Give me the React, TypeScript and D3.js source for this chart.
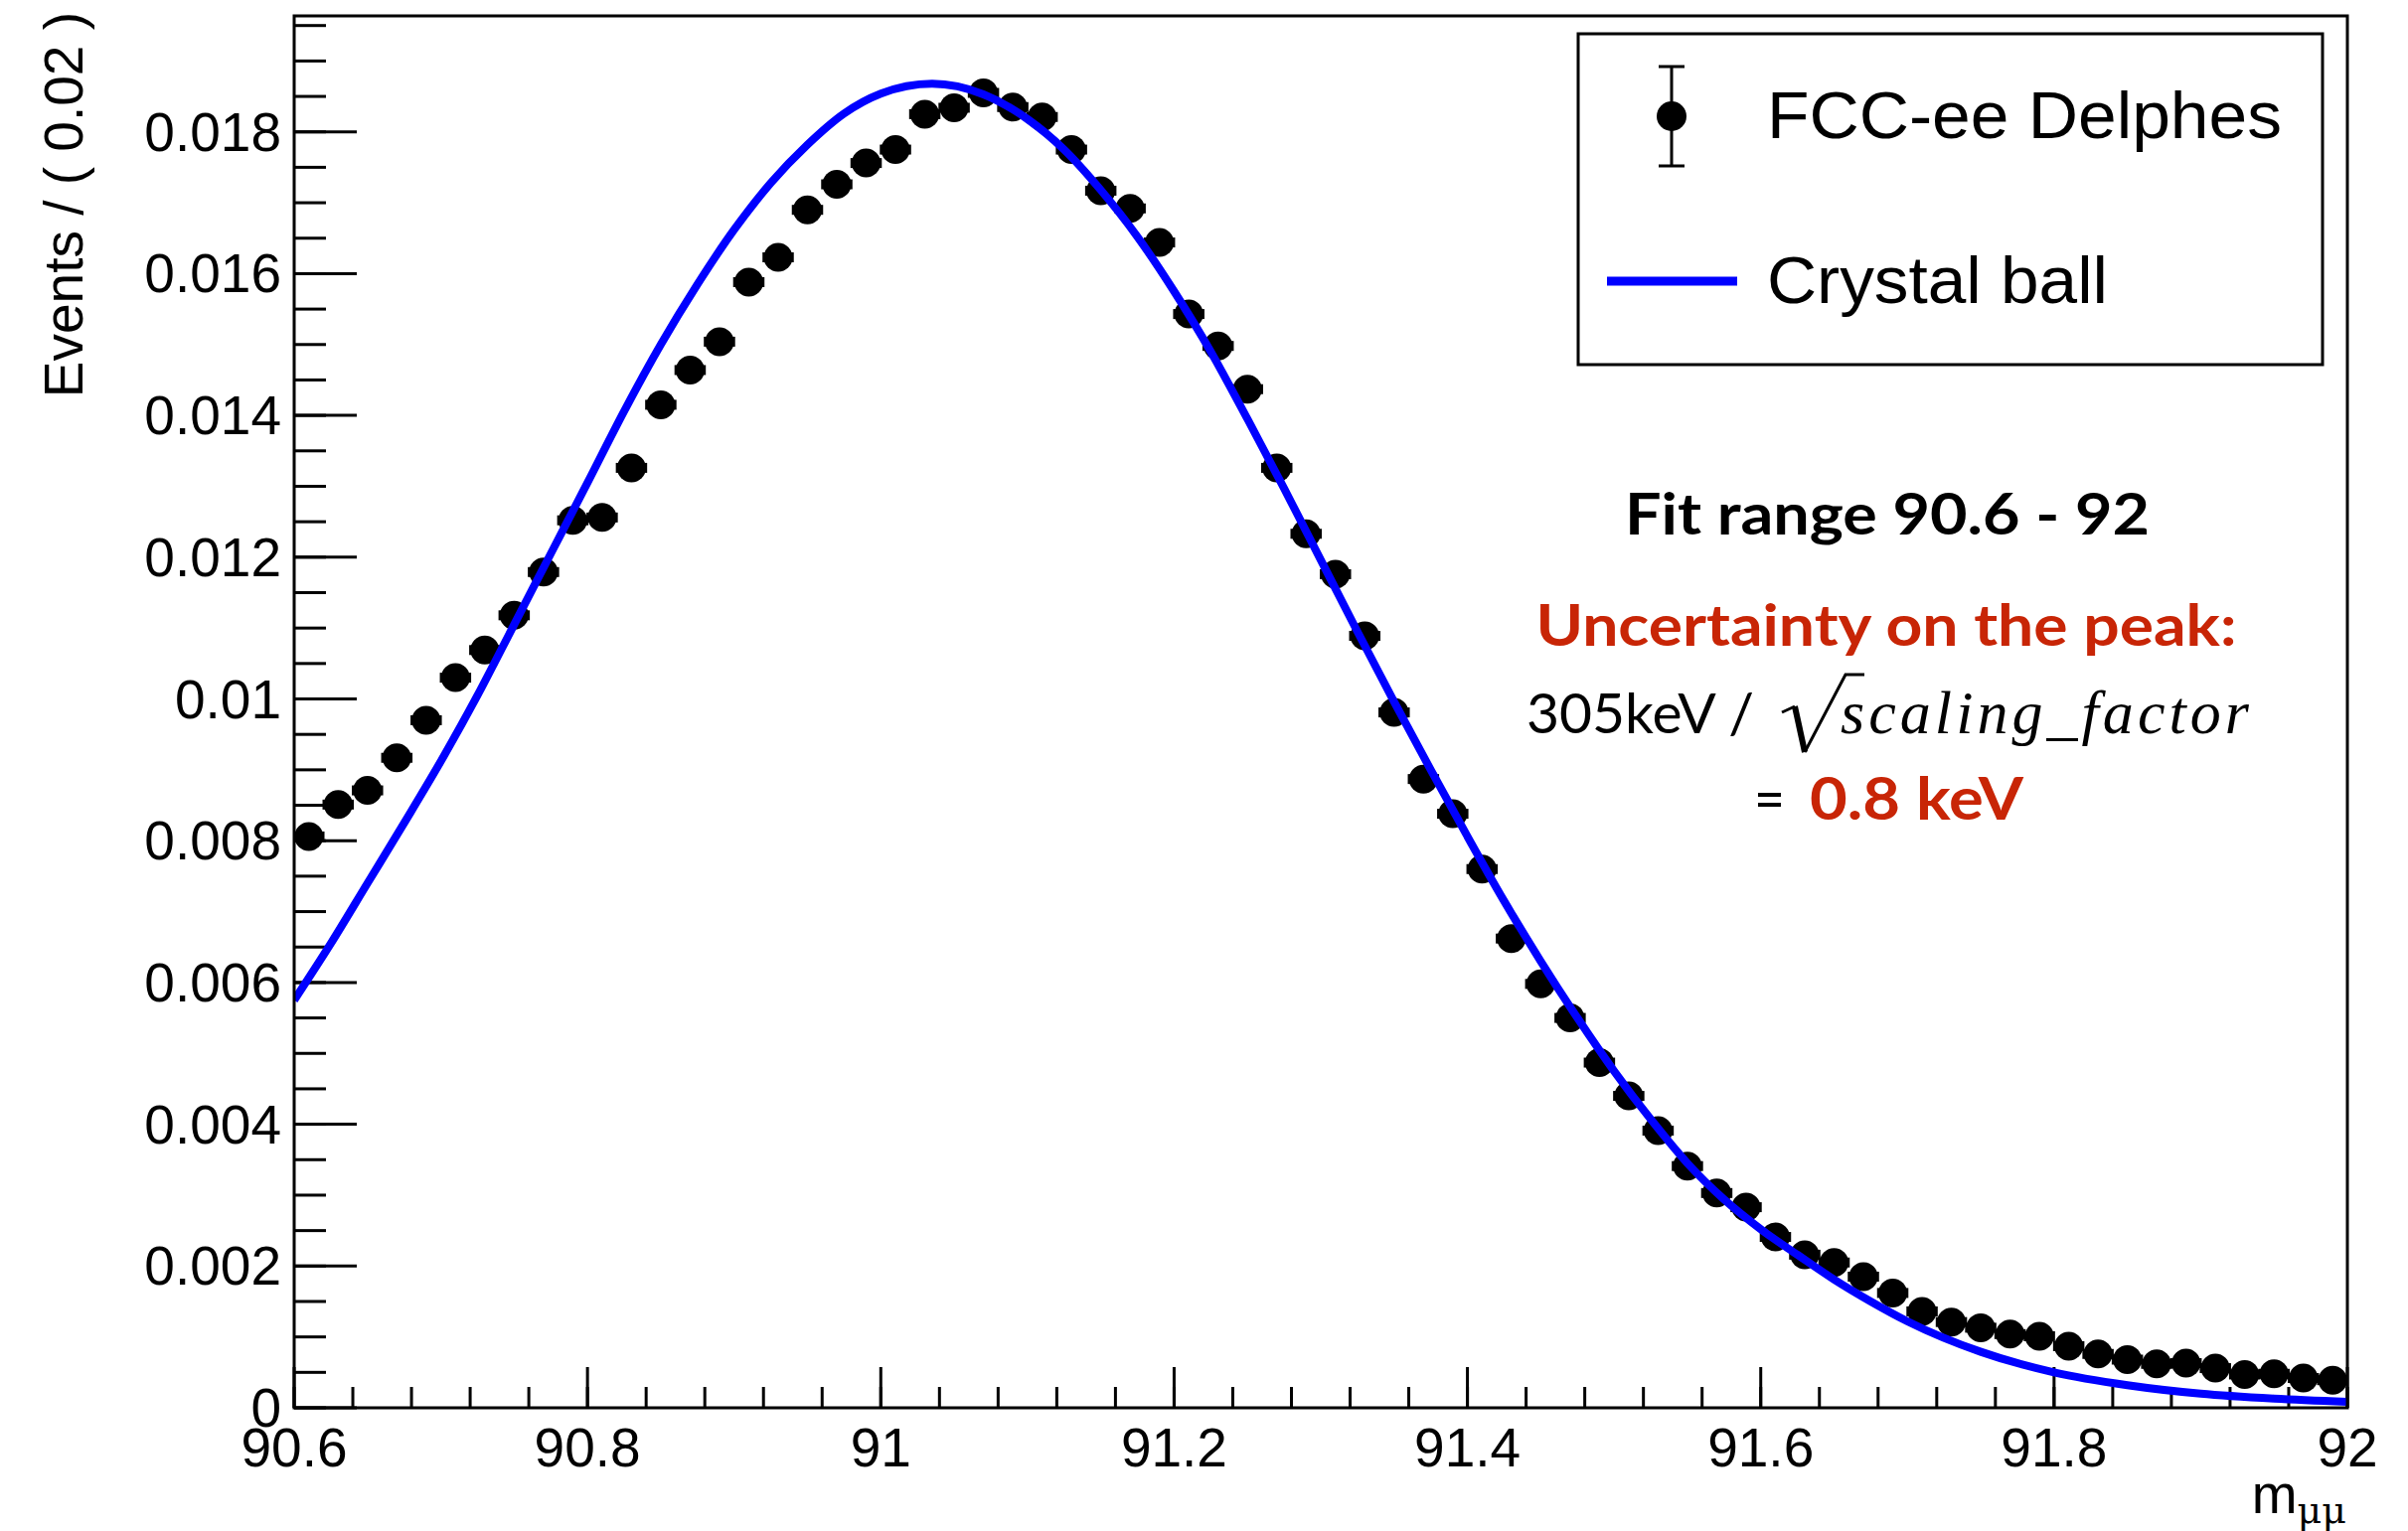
import React from 'react';
import * as d3 from 'd3';

// ---- data ----
const binCenters = [
  90.61, 90.63, 90.65, 90.67, 90.69, 90.71, 90.73, 90.75, 90.77, 90.79,
  90.81, 90.83, 90.85, 90.87, 90.89, 90.91, 90.93, 90.95, 90.97, 90.99,
  91.01, 91.03, 91.05, 91.07, 91.09, 91.11, 91.13, 91.15, 91.17, 91.19,
  91.21, 91.23, 91.25, 91.27, 91.29, 91.31, 91.33, 91.35, 91.37, 91.39,
  91.41, 91.43, 91.45, 91.47, 91.49, 91.51, 91.53, 91.55, 91.57, 91.59,
  91.61, 91.63, 91.65, 91.67, 91.69, 91.71, 91.73, 91.75, 91.77, 91.79,
  91.81, 91.83, 91.85, 91.87, 91.89, 91.91, 91.93, 91.95, 91.97, 91.99,
];
// Events per bin, in units of 1e-3
const delphesValues = [
  8.06, 8.51, 8.71, 9.17, 9.70, 10.30, 10.69, 11.18, 11.79, 12.52,
  12.56, 13.26, 14.15, 14.64, 15.04, 15.88, 16.23, 16.90, 17.26, 17.56,
  17.75, 18.25, 18.34, 18.55, 18.35, 18.21, 17.75, 17.17, 16.92, 16.44,
  15.43, 14.98, 14.37, 13.26, 12.33, 11.76, 10.89, 9.81, 8.87, 8.38,
  7.60, 6.62, 5.98, 5.50, 4.87, 4.40, 3.91, 3.41, 3.03, 2.83,
  2.41, 2.16, 2.05, 1.85, 1.62, 1.36, 1.21, 1.13, 1.04, 1.01,
  0.87, 0.76, 0.68, 0.62, 0.63, 0.56, 0.47, 0.48, 0.42, 0.39,
];
const binWidth = 0.02;

// Crystal ball fit curve (values in 1e-3)
const fitX = [
  90.6, 90.625, 90.65, 90.675, 90.7, 90.725, 90.75, 90.775, 90.8, 90.825,
  90.85, 90.875, 90.9, 90.925, 90.95, 90.975, 91.0, 91.035, 91.07, 91.1,
  91.125, 91.15, 91.175, 91.2, 91.225, 91.25, 91.275, 91.3, 91.325, 91.35,
  91.375, 91.4, 91.425, 91.45, 91.475, 91.5, 91.525, 91.55, 91.575, 91.6,
  91.625, 91.65, 91.675, 91.7, 91.75, 91.8, 91.85, 91.9, 91.95, 92.0,
];
const fitY = [
  5.75, 6.55, 7.40, 8.25, 9.12, 10.05, 11.05, 12.05, 13.05, 14.06,
  15.00, 15.85, 16.62, 17.28, 17.82, 18.26, 18.54, 18.68, 18.53, 18.18,
  17.75, 17.18, 16.52, 15.75, 14.90, 13.95, 12.97, 11.96, 10.95, 9.96,
  9.00, 8.06, 7.15, 6.30, 5.50, 4.75, 4.07, 3.45, 2.94, 2.52,
  2.16, 1.81, 1.50, 1.22, 0.79, 0.50, 0.32, 0.20, 0.13, 0.085,
];

const xDomain = [90.6, 92];
const yDomain = [0, 0.019636];
const xMajorTicks = [90.6, 90.8, 91.0, 91.2, 91.4, 91.6, 91.8, 92.0];
const xTickLabels = ['90.6', '90.8', '91', '91.2', '91.4', '91.6', '91.8', '92'];
const yMajorTicks = [0, 0.002, 0.004, 0.006, 0.008, 0.01, 0.012, 0.014, 0.016, 0.018];
const yTickLabels = ['0', '0.002', '0.004', '0.006', '0.008', '0.01', '0.012', '0.014', '0.016', '0.018'];
const xMinorStep = 0.04;
const yMinorStep = 0.0005;

const legendLabels = ['FCC-ee Delphes', 'Crystal ball'];

export default function App() {
  const W = 2423;
  const H = 1541;
  const L = 296, R = 2362, T = 16, B = 1417;

  const x = d3.scaleLinear().domain(xDomain).range([L, R]);
  const y = d3.scaleLinear().domain(yDomain).range([B, T]);

  const xMinor = d3.range(0, 36).map((i) => xDomain[0] + i * xMinorStep).filter((v) => v <= xDomain[1] + 1e-9);
  const yMinor = d3.range(0, 40).map((i) => i * yMinorStep).filter((v) => v <= yDomain[1]);

  const fitPts = fitX.map((v, i) => [v, fitY[i] * 1e-3] as [number, number]);
  const line = d3
    .line<[number, number]>()
    .x((d) => x(d[0]))
    .y((d) => y(d[1]))
    .curve(d3.curveMonotoneX);

  const sans = 'Liberation Sans, Arial, Helvetica, sans-serif';
  const geo = 'Lato, Noto Sans, sans-serif';
  const red = '#c82506';
  const halfBin = x(xDomain[0] + binWidth / 2) - x(xDomain[0]);

  return (
    <svg
      width={W}
      height={H}
      viewBox={`0 0 ${W} ${H}`}
      style={{ position: 'absolute', left: 0, top: 0, display: 'block', background: '#fff' }}
    >
      <rect x={0} y={0} width={W} height={H} fill="#fff" />
      <defs>
        <clipPath id="plotclip">
          <rect x={L} y={T} width={R - L} height={B - T} />
        </clipPath>
      </defs>

      {/* Ticks */}
      <g stroke="#000" strokeWidth={3}>
        {yMinor.map((v, i) => (
          <line key={'ym' + i} x1={L} x2={L + 32} y1={y(v)} y2={y(v)} />
        ))}
        {yMajorTicks.map((v, i) => (
          <line key={'yM' + i} x1={L} x2={L + 63} y1={y(v)} y2={y(v)} />
        ))}
        {xMinor.map((v, i) => (
          <line key={'xm' + i} x1={x(v)} x2={x(v)} y1={B} y2={B - 21} />
        ))}
        {xMajorTicks.map((v, i) => (
          <line key={'xM' + i} x1={x(v)} x2={x(v)} y1={B} y2={B - 41} />
        ))}
      </g>

      {/* Tick labels */}
      <g fontFamily={sans} fontSize={55} fill="#000">
        {yMajorTicks.map((v, i) => (
          <text key={'yl' + i} x={L - 13} y={y(v) + 19} textAnchor="end">
            {yTickLabels[i]}
          </text>
        ))}
        {xMajorTicks.map((v, i) => (
          <text key={'xl' + i} x={x(v)} y={1476} textAnchor="middle">
            {xTickLabels[i]}
          </text>
        ))}
      </g>

      {/* Axis titles */}
      <text
        transform="translate(83,12) rotate(-90)"
        textAnchor="end"
        fontFamily={sans}
        fontSize={55}
        fill="#000"
      >
        Events / ( 0.02 )
      </text>
      <text x={2361} y={1523} textAnchor="end" fontFamily={sans} fontSize={55} fill="#000">
        <tspan>m</tspan>
        <tspan fontSize={38} dy={10} fontFamily="DejaVu Serif, Liberation Serif, serif">μμ</tspan>
      </text>

      {/* Data points */}
      <g clipPath="url(#plotclip)" fill="#000">
        {binCenters.map((c, i) => {
          const cx = x(c);
          const cy = y(delphesValues[i] * 1e-3);
          return (
            <g key={'p' + i}>
              <rect x={cx - halfBin - 1} y={cy - 5} width={2 * halfBin + 2} height={10} />
              <circle cx={cx} cy={cy} r={14.5} />
            </g>
          );
        })}
      </g>

      {/* Fit curve */}
      <path
        d={line(fitPts) || ''}
        fill="none"
        stroke="#0000ff"
        strokeWidth={8}
        clipPath="url(#plotclip)"
      />

      {/* Frame */}
      <rect x={L} y={T} width={R - L} height={B - T} fill="none" stroke="#000" strokeWidth={3} />

      {/* Legend */}
      <rect x={1588} y={34} width={749} height={333} fill="#fff" stroke="#000" strokeWidth={3} />
      <g stroke="#000" strokeWidth={3}>
        <line x1={1682} x2={1682} y1={67} y2={167} />
        <line x1={1669} x2={1695} y1={67} y2={67} />
        <line x1={1669} x2={1695} y1={167} y2={167} />
      </g>
      <circle cx={1682} cy={117} r={15} fill="#000" />
      <text
        x={1778}
        y={139}
        fontFamily={sans}
        fontSize={67}
        textLength={518}
        lengthAdjust="spacingAndGlyphs"
        fill="#000"
      >
        {legendLabels[0]}
      </text>
      <line x1={1617} x2={1748} y1={283} y2={283} stroke="#0000ff" strokeWidth={9} />
      <text
        x={1778}
        y={305}
        fontFamily={sans}
        fontSize={67}
        textLength={343}
        lengthAdjust="spacingAndGlyphs"
        fill="#000"
      >
        {legendLabels[1]}
      </text>

      {/* Annotations */}
      <text
        x={1899}
        y={538}
        textAnchor="middle"
        fontFamily={geo}
        fontWeight={700}
        fontSize={58}
        textLength={528}
        lengthAdjust="spacingAndGlyphs"
        fill="#000"
      >
        Fit range 90.6 - 92
      </text>
      <text
        x={1898}
        y={650}
        textAnchor="middle"
        fontFamily={geo}
        fontWeight={700}
        fontSize={58}
        textLength={705}
        lengthAdjust="spacingAndGlyphs"
        fill={red}
      >
        Uncertainty on the peak:
      </text>
      <text
        x={1536}
        y={738}
        fontFamily={geo}
        fontWeight={400}
        fontSize={57}
        textLength={229}
        lengthAdjust="spacingAndGlyphs"
        fill="#000"
      >
        305keV /
      </text>
      <g fill="none" stroke="#000" strokeLinejoin="miter">
        <polyline points="1793,717 1806,711" strokeWidth={3} />
        <polyline points="1806,711 1816,757" strokeWidth={6} />
        <polyline points="1816,757 1857,679 1876,679" strokeWidth={3} />
      </g>
      <text
        x={1852}
        y={738}
        fontFamily="'Liberation Serif', 'DejaVu Serif', 'Times New Roman', serif"
        fontStyle="italic"
        fontSize={62}
        textLength={411}
        lengthAdjust="spacing"
        fill="#000"
      >
        scaling_factor
      </text>
      <text
        x={1765}
        y={825}
        fontFamily={geo}
        fontWeight={400}
        fontSize={60}
        textLength={31}
        lengthAdjust="spacingAndGlyphs"
        fill="#000"
      >
        =
      </text>
      <text
        x={1821}
        y={825}
        fontFamily={geo}
        fontWeight={700}
        fontSize={60}
        textLength={215}
        lengthAdjust="spacingAndGlyphs"
        fill={red}
      >
        0.8 keV
      </text>
    </svg>
  );
}
